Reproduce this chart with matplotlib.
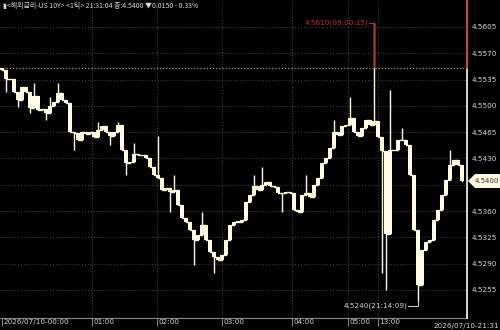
import numpy as np
import matplotlib
matplotlib.use("Agg")
import matplotlib.pyplot as plt
import matplotlib.transforms as mtrans
from matplotlib.patches import Polygon

# data (US 10Y, 1 tick bars)
closes = [4.5548, 4.5536, 4.5536, 4.5519, 4.5508, 4.5525, 4.5519, 4.5497, 4.5513, 4.5495,
          4.5496, 4.5491, 4.5500, 4.5505, 4.5517, 4.5508, 4.5504, 4.5465, 4.5464, 4.5455,
          4.5465, 4.5463, 4.5465, 4.5459, 4.5468, 4.5473, 4.5465, 4.5460, 4.5465, 4.5475,
          4.5441, 4.5424, 4.5425, 4.5436, 4.5435, 4.5435, 4.5431, 4.5419, 4.5408, 4.5404,
          4.5388, 4.5391, 4.5385, 4.5388, 4.5368, 4.5351, 4.5346, 4.5335, 4.5322, 4.5328,
          4.5342, 4.5322, 4.5306, 4.5299, 4.5295, 4.5302, 4.5322, 4.5342, 4.5346, 4.5346,
          4.5348, 4.5372, 4.5381, 4.5393, 4.5388, 4.5395, 4.5399, 4.5393, 4.5392, 4.5384,
          4.5384, 4.5385, 4.5384, 4.5362, 4.5359, 4.5381, 4.5384, 4.5379, 4.5395, 4.5404,
          4.5424, 4.5431, 4.5444, 4.5465, 4.5461, 4.5473, 4.5475, 4.5484, 4.5465, 4.5460,
          4.5471, 4.5481, 4.5475, 4.5480, 4.5458, 4.5440, 4.5330, 4.5441, 4.5441, 4.5455,
          4.5455, 4.5448, 4.5408, 4.5335, 4.5262, 4.5308, 4.5319, 4.5322, 4.5348, 4.5362,
          4.5381, 4.5401, 4.5421, 4.5428, 4.5421, 4.5400]
open0 = 4.5550

# wick extremes
wick_idx = [1, 4, 7, 8, 11, 12, 14, 18, 24, 27, 29, 31, 33, 39, 42, 43, 48, 50, 53,
            63, 65, 70, 76, 83, 87, 93, 95, 96, 97, 100, 104, 112]
wick_val = [4.5519, 4.5499, 4.5491, 4.5531, 4.5481, 4.5512, 4.5531, 4.5441, 4.5479, 4.5448,
            4.5479, 4.5408, 4.5451, 4.5460, 4.5359, 4.5408, 4.5288, 4.5359, 4.5278,
            4.5408, 4.5419, 4.5359, 4.5408, 4.5481, 4.5512, 4.5610, 4.5278, 4.5255, 4.5521,
            4.5471, 4.5240, 4.5441]

prev_close = 4.5550
y_ticks = [4.5605, 4.5570, 4.5535, 4.5500, 4.5465, 4.5430, 4.5395, 4.5360, 4.5325, 4.5290, 4.5255]
x_ticks = [0, 22.5, 38.75, 55, 72.5, 86.5, 94]
x_labels = ["2026/07/10-00:00", "01:00", "02:00", "03:00", "04:00", "05:00", "13:00"]
last_label = "2026/07/10-21:31"
header = "▮<해외금리-US 10Y> <1틱> 21:31:04 종:4.5400 ▼0.0150 - 0.33%"

cream = "#FFFBE0"
red = "#D02A2A"
txt = "#D8D8D8"
grid = "#4A4A4A"
small = ["Liberation Sans Narrow", "DejaVu Sans"]

fig = plt.figure(figsize=(5, 3.3), dpi=100, facecolor="black")
ax = fig.add_axes([0, 12/330, 467/500, 318/330])
ax.set_facecolor("black")
ax.set_xlim(-0.5, 116.25)
ax.set_ylim(4.52177, 4.56409)

# grid
for v in y_ticks:
    ax.axhline(v, color=grid, lw=0.7, ls=(0, (1, 2)), zorder=0)
for t in x_ticks[1:]:
    ax.axvline(t, color=grid, lw=0.7, ls=(0, (1, 2)), zorder=0)
ax.axhline(prev_close, color="#9A9A9A", lw=0.9, ls=(0, (1, 1.5)), zorder=0)

# candles: body from previous close to close, joined by steps
x = np.arange(len(closes))
opens = np.r_[open0, closes[:-1]]
lo = np.minimum(opens, closes)
hi = np.maximum(opens, closes)
ax.bar(x, np.maximum(hi - lo, 0.00002), bottom=lo, width=0.8, color=cream, lw=0, zorder=3)
ax.plot(x, closes, drawstyle="steps-post", color=cream, lw=1.0, zorder=3)
for i, v in zip(wick_idx, wick_val):
    ax.vlines(i, min(v, lo[i]), max(v, hi[i]), color=cream, lw=1.0, zorder=3)
    if v > prev_close:
        ax.vlines(i, prev_close, v, color=red, lw=1.0, zorder=4)

# high / low labels
ih = wick_idx[wick_val.index(max(wick_val))]
ax.plot([ih - 1.3, ih], [max(wick_val), max(wick_val)], color=red, lw=0.7, zorder=4)
ax.text(ih - 1.5, max(wick_val), "4.5610(09:00:15)", color=red, fontsize=5.2,
        family=small, ha="right", va="center")
il = wick_idx[wick_val.index(min(wick_val))]
ylab = min(wick_val) - 0.00065
ax.plot([il - 2.5, il, il], [ylab, ylab, min(wick_val)], color=txt, lw=0.7, zorder=4)
ax.text(il - 2.7, ylab, "4.5240(21:14:09)", color=txt, fontsize=5.2,
        family=small, ha="right", va="center")

# axes
for s in ["top", "left", "right"]:
    ax.spines[s].set_visible(False)
ax.spines["bottom"].set_color("#8A8A8A")
ax.plot([1, 1], [0, 1], transform=ax.transAxes, color="white", lw=1.2, clip_on=False, zorder=5)
ax.plot([116.25, 116.25], [prev_close, 4.56409], color=red, lw=1.2, clip_on=False, zorder=6)

ax.yaxis.tick_right()
ax.set_yticks([v for v in y_ticks if v != 4.5395])
ax.set_yticklabels([f"{v:.4f}" for v in y_ticks if v != 4.5395], family=small)
ax.tick_params(axis="y", length=0, pad=3, labelsize=5.2, labelcolor=txt)
ax.set_xticks(x_ticks)
ax.set_xticklabels(x_labels, family=small, ha="left")
ax.tick_params(axis="x", length=6, width=0.7, color="#8A8A8A", pad=-5.5, labelsize=5.2,
               labelcolor=txt)
shift = mtrans.ScaledTranslation(1.5/100, 0, fig.dpi_scale_trans)
for lab in ax.get_xticklabels():
    lab.set_transform(lab.get_transform() + shift)

fig.text(0.998, 1/330, last_label, color=txt, fontsize=5.2, family=small, ha="right", va="bottom")
fig.text(0.006, 1 - 6/330, header, color=txt, fontsize=5,
         family=["Noto Sans CJK KR", "DejaVu Sans"], ha="left", va="center")

# current price marker
yp = 4.5400
py = ax.transData.transform((0, yp))[1] / 330
mk = Polygon([[468/500, py], [475/500, py + 7/330], [1, py + 7/330], [1, py - 7/330],
              [475/500, py - 7/330]], closed=True, transform=fig.transFigure,
             facecolor=cream, edgecolor="none")
fig.add_artist(mk)
fig.text(487/500, py, "4.5400", color="#333333", fontsize=5, family=small,
         ha="center", va="center")

fig.savefig("out.png", dpi=100, facecolor="black")
